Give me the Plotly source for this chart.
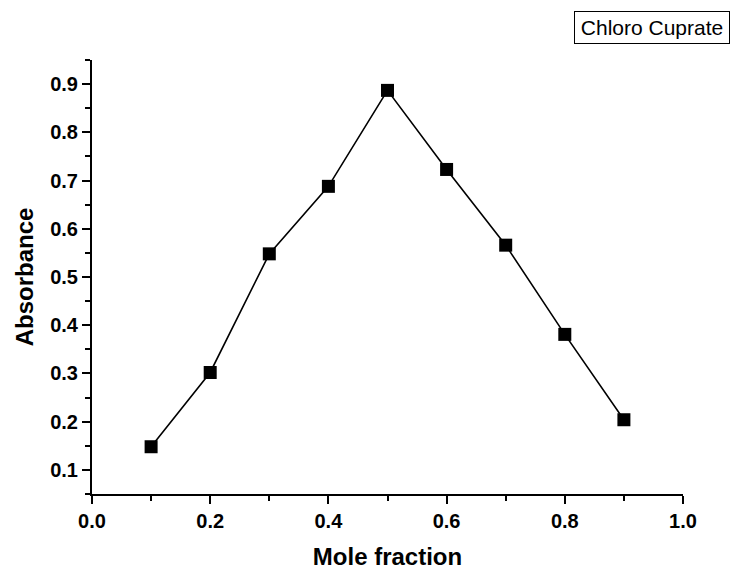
import plotly.graph_objects as go

mole_fraction = [0.1, 0.2, 0.3, 0.4, 0.5, 0.6, 0.7, 0.8, 0.9]
absorbance = [0.148, 0.302, 0.548, 0.688, 0.887, 0.723, 0.566, 0.381, 0.204]
series_name = "Chloro Cuprate"
x_ticks = [0, 0.2, 0.4, 0.6, 0.8, 1.0]
x_labels = ["0.0", "0.2", "0.4", "0.6", "0.8", "1.0"]
y_ticks = [0.1, 0.2, 0.3, 0.4, 0.5, 0.6, 0.7, 0.8, 0.9]
y_labels = ["0.1", "0.2", "0.3", "0.4", "0.5", "0.6", "0.7", "0.8", "0.9"]

FONT = "Arial, Liberation Sans, sans-serif"

fig = go.Figure()
fig.add_trace(go.Scatter(
    x=mole_fraction, y=absorbance, mode="lines+markers", name=series_name,
    line=dict(color="black", width=1.6),
    marker=dict(symbol="square", size=13, color="black"),
    showlegend=False,
))

fig.add_annotation(
    text=series_name, xref="paper", yref="paper", x=1.0795, y=1.037,
    xanchor="right", yanchor="bottom", showarrow=False,
    font=dict(family=FONT, size=21, color="black"),
    width=150, height=27, align="center", valign="middle",
    bordercolor="black", borderwidth=1, borderpad=2, bgcolor="white",
)

fig.update_layout(
    width=731, height=570,
    margin=dict(l=92, r=48, t=60, b=76, autoexpand=False),
    paper_bgcolor="white", plot_bgcolor="white",
    font=dict(family=FONT, color="black"),
)
fig.update_xaxes(
    range=[0, 1], tickvals=x_ticks, ticktext=x_labels,
    ticks="outside", ticklen=8, tickwidth=1.5, tickcolor="black",
    minor=dict(dtick=0.1, ticks="outside", ticklen=5, tickwidth=1.5, tickcolor="black", showgrid=False),
    showline=True, linecolor="black", linewidth=2, showgrid=False, zeroline=False,
    tickfont=dict(family=FONT, size=20, color="black", weight="bold"),
    automargin=False,
    title=dict(text="<b>Mole fraction</b>", font=dict(family=FONT, size=24, color="black"), standoff=19),
)
fig.update_yaxes(
    range=[0.05, 0.95], tickvals=y_ticks, ticktext=y_labels,
    ticks="outside", ticklen=8, tickwidth=1.5, tickcolor="black",
    minor=dict(tick0=0.05, dtick=0.1, ticks="outside", ticklen=5, tickwidth=1.5, tickcolor="black", showgrid=False),
    showline=True, linecolor="black", linewidth=2, showgrid=False, zeroline=False,
    tickfont=dict(family=FONT, size=20, color="black", weight="bold"),
    automargin=False,
    title=dict(text="<b>Absorbance</b>", font=dict(family=FONT, size=24, color="black"), standoff=10),
)

fig.write_html(
    "out.html",
    config={"displayModeBar": False},
    post_script="document.body.style.margin='0';document.body.style.overflow='hidden';",
)
